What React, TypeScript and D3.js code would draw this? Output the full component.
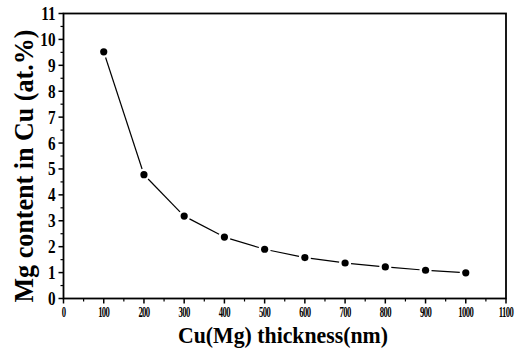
import React from "react";
import * as d3 from "d3";

const thickness = [100, 200, 300, 400, 500, 600, 700, 800, 900, 1000];
const mgContent = [9.52, 4.78, 3.18, 2.37, 1.9, 1.58, 1.37, 1.22, 1.09, 0.99];
const xTicks = [0, 100, 200, 300, 400, 500, 600, 700, 800, 900, 1000, 1100];
const yTicks = [0, 1, 2, 3, 4, 5, 6, 7, 8, 9, 10, 11];
const xTitle = "Cu(Mg) thickness(nm)";
const yTitle = "Mg content in Cu (at.%)";

const W = 516, H = 351;
const L = 63.5, R = 506, T = 13.5, B = 298.5;
const font = "Liberation Serif";

export default function App() {
  const x = d3.scaleLinear().domain([0, 1100]).range([L, R]);
  const y = d3.scaleLinear().domain([0, 11]).range([B, T]);
  const xMinor = d3.range(50, 1100, 100);
  const yMinor = d3.range(0.5, 11, 1);
  const pts = mgContent.map((v, i) => [x(thickness[i]), y(v)] as [number, number]);
  const gap = 6;
  const segs = pts.slice(1).map((p, i) => {
    const a = pts[i];
    const dx = p[0] - a[0], dy = p[1] - a[1];
    const len = Math.hypot(dx, dy);
    const ux = dx / len, uy = dy / len;
    return [a[0] + ux * gap, a[1] + uy * gap, p[0] - ux * gap, p[1] - uy * gap];
  });
  return (
    <svg width={W} height={H} style={{ position: "absolute", left: 0, top: 0, background: "#fff" }}>
      <rect x={0} y={0} width={W} height={H} fill="#fff" />
      <rect x={L} y={T} width={R - L} height={B - T} fill="none" stroke="#000" strokeWidth={1.8} />
      {xTicks.map((t) => (
        <g key={"xt" + t}>
          <line x1={x(t)} x2={x(t)} y1={B} y2={B + 5} stroke="#000" strokeWidth={1.5} />
          <text transform={`translate(${x(t)},${B + 18.5}) scale(0.62,1)`} textAnchor="middle" fontFamily={font}
            fontWeight="bold" fontSize={14} letterSpacing={-1}>{t}</text>
        </g>
      ))}
      {xMinor.map((t) => (
        <line key={"xm" + t} x1={x(t)} x2={x(t)} y1={B} y2={B + 3} stroke="#000" strokeWidth={1.2} />
      ))}
      {yTicks.map((t) => (
        <g key={"yt" + t}>
          <line x1={L} x2={L - 5} y1={y(t)} y2={y(t)} stroke="#000" strokeWidth={1.5} />
          <text transform={`translate(${L - 8},${y(t) + 6.5}) scale(0.8,1)`} textAnchor="end" fontFamily={font}
            fontWeight="bold" fontSize={19}>{t}</text>
        </g>
      ))}
      {yMinor.map((t) => (
        <line key={"ym" + t} x1={L} x2={L - 3} y1={y(t)} y2={y(t)} stroke="#000" strokeWidth={1.2} />
      ))}
      {segs.map((s, i) => (
        <line key={"s" + i} x1={s[0]} y1={s[1]} x2={s[2]} y2={s[3]} stroke="#000" strokeWidth={1.2} />
      ))}
      {pts.map((p, i) => (
        <circle key={"p" + i} cx={p[0]} cy={p[1]} r={3.6} fill="#000" />
      ))}
      <text x={283} y={343} textAnchor="middle" fontFamily={font} fontWeight="bold" fontSize={23}
        textLength={210} lengthAdjust="spacingAndGlyphs">{xTitle}</text>
      <text transform={`translate(33, 166) rotate(-90)`} textAnchor="middle" fontFamily={font} fontWeight="bold" fontSize={28}
        textLength={273} lengthAdjust="spacingAndGlyphs">{yTitle}</text>
    </svg>
  );
}
